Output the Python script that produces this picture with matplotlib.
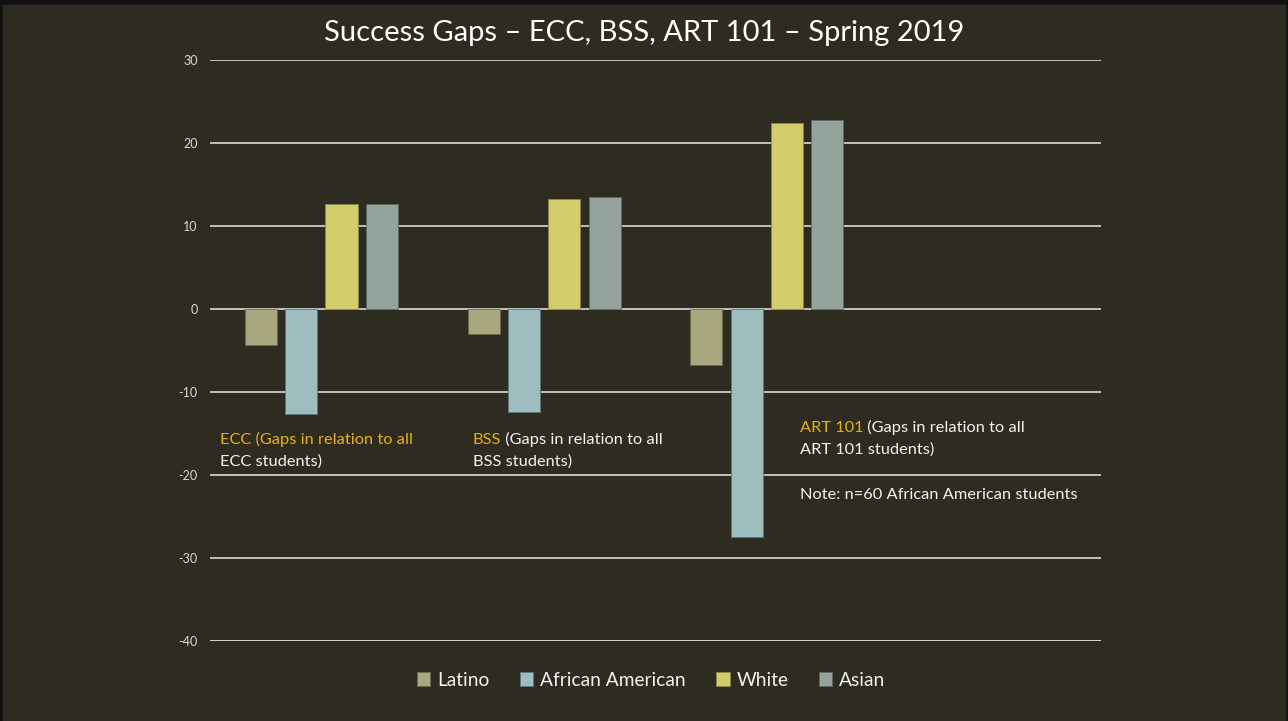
import matplotlib
matplotlib.use("Agg")
import matplotlib.pyplot as plt
import numpy as np

groups = ["ECC", "BSS", "ART 101", ""]
series = ["Latino", "African American", "White", "Asian"]
latino = [-4.3, -3.0, -6.8, np.nan]
african_american = [-12.7, -12.45, -27.5, np.nan]
white = [12.6, 13.2, 22.4, np.nan]
asian = [12.6, 13.55, 22.8, np.nan]
values = [latino, african_american, white, asian]
colors = ["#a9a77d", "#9dbdbe", "#d2cc6b", "#94a39b"]
edges = ["#6b6a4f", "#5f7677", "#8a8645", "#5d6861"]
yticks = [30, 20, 10, 0, -10, -20, -30, -40]

bg = "#2e2b21"
orange = "#e9b00c"
white_txt = "#f2f2f2"
plt.rcParams["font.family"] = ["Lato", "DejaVu Sans"]

fig = plt.figure(figsize=(12.88, 7.21), dpi=100, facecolor="#111111")
fig.patches.append(plt.Rectangle((3 / 1288, 0), 1282 / 1288, 716 / 721,
                                 transform=fig.transFigure, color=bg, zorder=-10))
ax = fig.add_axes([210 / 1288, 1 - 641 / 721, 891 / 1288, 581 / 721])
ax.set_facecolor(bg)

x = np.arange(len(groups))
step, width = 0.181, 0.144
for i, (name, vals) in enumerate(zip(series, values)):
    ax.bar(x + (i - 1.5) * step, vals, width, color=colors[i],
           edgecolor=edges[i], linewidth=0.6, label=name, zorder=3)

ax.set_xlim(-0.5, 3.5)
ax.set_ylim(-40, 30)
ax.set_yticks(yticks)
ax.set_yticklabels([str(t) for t in yticks])
ax.set_xticks([])
ax.tick_params(axis="y", length=0, pad=9, labelsize=9, labelcolor="#d9d9d9")
for s in ax.spines.values():
    s.set_visible(False)
ax.grid(axis="y", color="#d9d9d9", linewidth=1.2, zorder=1)
ax.axhline(-40, color="#d9d9d9", linewidth=1.2, zorder=1)

fig.text(0.5, 1 - 33 / 721, "Success Gaps \u2013 ECC, BSS, ART 101 \u2013 Spring 2019",
         ha="center", va="center", color="white", fontsize=21)


def label(px, py, head, rest, line2):
    t = ax.annotate(head, xy=(px / 1288, 1 - py / 721), xycoords="figure fraction",
                    color=orange, fontsize=11.8, va="baseline")
    ax.annotate(rest, xy=(1, 0), xycoords=t, color=white_txt, fontsize=11.8,
                va="bottom")
    ax.annotate(line2, xy=(px / 1288, 1 - (py + 22) / 721), xycoords="figure fraction",
                color=white_txt, fontsize=11.8, va="baseline")


label(220, 444, "ECC (Gaps in relation to all", "", "ECC students)")
label(473, 444, "BSS", " (Gaps in relation to all", "BSS students)")
label(800, 432, "ART 101", " (Gaps in relation to all", "ART 101 students)")
fig.text(800 / 1288, 1 - 499 / 721, "Note: n=60 African American students",
         color=white_txt, fontsize=11.8, va="baseline")

leg = fig.legend(loc="center", bbox_to_anchor=(651 / 1288, 1 - 680 / 721), ncol=4,
                 frameon=False, fontsize=13.8, handlelength=0.7, handleheight=0.7,
                 handletextpad=0.35, columnspacing=1.6)
for t in leg.get_texts():
    t.set_color(white_txt)

fig.savefig("out.png", dpi=100, facecolor=fig.get_facecolor())
